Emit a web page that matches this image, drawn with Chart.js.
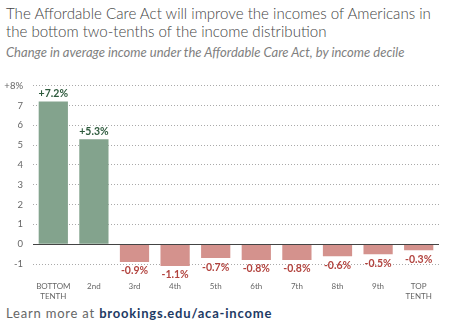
<!DOCTYPE html>
<html>
<head>
<meta charset="utf-8">
<script src="https://cdn.jsdelivr.net/npm/chart.js@4.4.1/dist/chart.umd.min.js"></script>
<style>
  body { margin: 0; background: #fff; font-family: 'Lato', sans-serif; }
  #wrap { position: relative; width: 449px; height: 326px; overflow: hidden; }
  #title { position: absolute; left: 6px; top: 4px; font-size: 15.1px; font-weight: 300; line-height: 18px; color: #444; white-space: nowrap; }
  #subtitle { position: absolute; left: 6px; top: 44px; font-size: 13px; font-style: italic; color: #808080; white-space: nowrap; }
  #chartBox { position: absolute; left: 0; top: 70px; width: 449px; height: 235px; }
  #footer { position: absolute; left: 6px; top: 305px; font-size: 13px; color: #666; letter-spacing: 0.8px; white-space: nowrap; }
  #footer b { color: #1d3a64; }
</style>
</head>
<body>
<div id="wrap">
  <div id="title">The Affordable Care Act will improve the incomes of Americans in<br>the bottom two-tenths of the income distribution</div>
  <div id="subtitle">Change in average income under the Affordable Care Act, by income decile</div>
  <div id="chartBox"><canvas id="chart"></canvas></div>
  <div id="footer">Learn more at <b>brookings.edu/aca-income</b></div>
</div>
<script>
const deciles = [['BOTTOM', 'TENTH'], '2nd', '3rd', '4th', '5th', '6th', '7th', '8th', '9th', ['TOP', 'TENTH']];
const incomeChange = [7.2, 5.3, -0.9, -1.1, -0.7, -0.8, -0.8, -0.6, -0.5, -0.3];
const yTicks = [-1, 0, 1, 2, 3, 4, 5, 6, 7, 8];

const GREEN = '#83a38d';
const RED = '#d4928d';
const FONT = "'Lato', sans-serif";

// value labels above positive bars, below negative ones
const barLabels = {
  id: 'barLabels',
  afterDatasetsDraw(chart) {
    const ctx = chart.ctx;
    const meta = chart.getDatasetMeta(0);
    ctx.save();
    ctx.font = 'bold 10.5px ' + FONT;
    ctx.textAlign = 'center';
    ctx.textBaseline = 'middle';
    meta.data.forEach((bar, i) => {
      const v = incomeChange[i];
      const txt = (v > 0 ? '+' : '') + v.toFixed(1) + '%';
      ctx.fillStyle = v > 0 ? '#2d5a3c' : '#b2433e';
      ctx.fillText(txt, bar.x, v > 0 ? bar.y - 8 : bar.y + 9);
    });
    ctx.restore();
  }
};

// solid dark line at zero, drawn over the bars
const zeroLine = {
  id: 'zeroLine',
  afterDatasetsDraw(chart) {
    const { ctx, chartArea, scales } = chart;
    const y = Math.round(scales.y.getPixelForValue(0)) + 0.5;
    ctx.save();
    ctx.strokeStyle = '#444';
    ctx.lineWidth = 1;
    ctx.beginPath();
    ctx.moveTo(chartArea.left, y);
    ctx.lineTo(chartArea.right, y);
    ctx.stroke();
    ctx.restore();
  }
};

new Chart(document.getElementById('chart'), {
  type: 'bar',
  data: {
    labels: deciles,
    datasets: [{
      data: incomeChange,
      backgroundColor: incomeChange.map(v => v > 0 ? GREEN : RED),
      borderWidth: 0,
      categoryPercentage: 1,
      barPercentage: 0.72
    }]
  },
  options: {
    responsive: true,
    maintainAspectRatio: false,
    animation: false,
    layout: { padding: { top: 12, right: 10, left: 0, bottom: 0 } },
    plugins: { legend: { display: false }, tooltip: { enabled: false } },
    scales: {
      x: {
        grid: { display: false, drawTicks: false },
        border: { display: false },
        ticks: { color: '#666', font: { size: 8, family: FONT }, padding: 12, maxRotation: 0, autoSkip: false },
        afterFit(scale) { scale.height = 35; }
      },
      y: {
        min: -1.3,
        max: 8,
        afterBuildTicks(scale) { scale.ticks = yTicks.map(v => ({ value: v })); },
        afterFit(scale) { scale.width = 33; },
        border: { display: false, dash: [1, 2] },
        grid: {
          drawTicks: false,
          color: ctx => ctx.tick && ctx.tick.value === 0 ? 'rgba(0,0,0,0)' : '#aaa',
          lineWidth: 1
        },
        ticks: {
          color: '#666',
          padding: 10,
          font: { size: 9.5, family: FONT },
          callback: v => v === 8 ? '+8%' : v
        }
      }
    }
  },
  plugins: [barLabels, zeroLine]
});
</script>
</body>
</html>
